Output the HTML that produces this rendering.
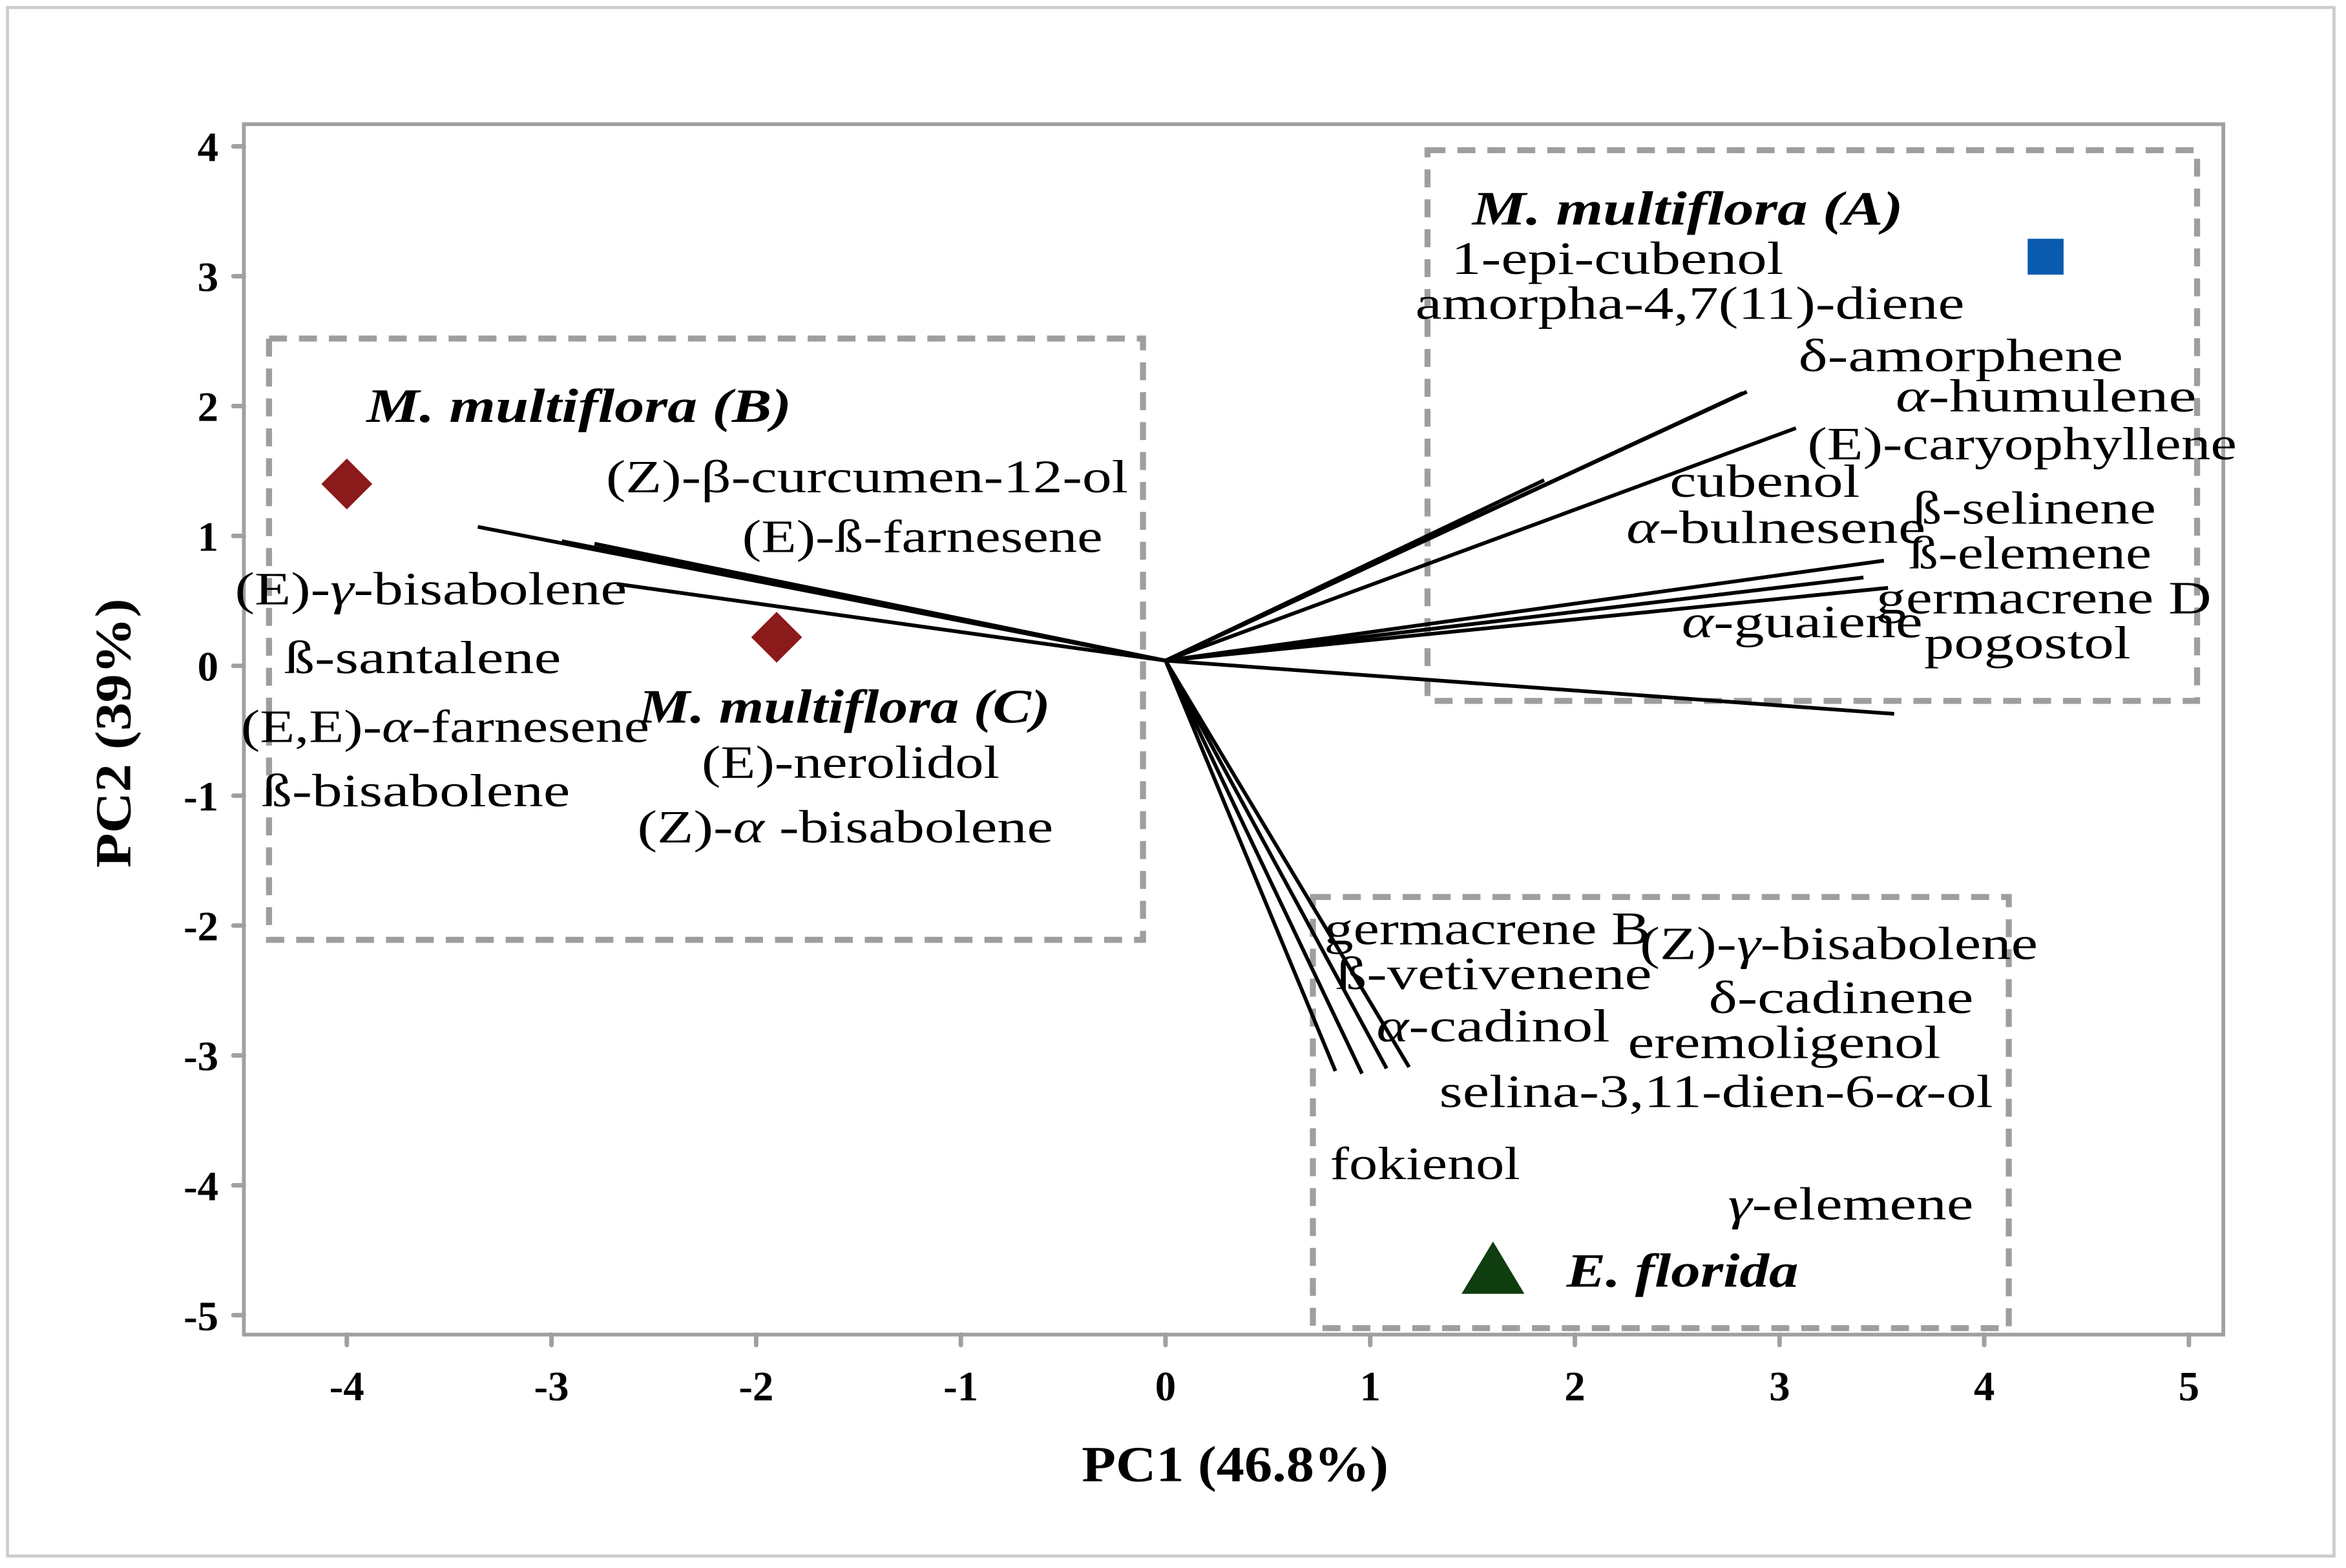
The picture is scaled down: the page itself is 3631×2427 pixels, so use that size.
<!DOCTYPE html>
<html><head><meta charset="utf-8"><style>
html,body{margin:0;padding:0;background:#fff}
svg{display:block}
text{font-family:"Liberation Serif",serif;fill:#000}
.lab{font-size:31px}
.grp{font-size:32px;font-weight:bold;font-style:italic}
.tick{font-size:28px;font-weight:bold}
.ttl{font-size:34px;font-weight:bold}
</style></head><body>
<svg id="chart" width="3631" height="2427" viewBox="0 0 1568 1048" preserveAspectRatio="none" xmlns="http://www.w3.org/2000/svg">
<rect x="5" y="5" width="1555" height="1035" fill="#fff" stroke="#ccc" stroke-width="2"/>
<g id="boxes"></g>
<g id="vecs"></g>
<g id="pts"></g>
<rect x="163" y="83" width="1323" height="809" fill="none" stroke="#a0a0a0" stroke-width="2.5"/>
<g id="ticks"></g>
<g id="labels" class="lab" lengthAdjust="spacingAndGlyphs">
<text x="970" y="183" textLength="222" lengthAdjust="spacingAndGlyphs">1-epi-cubenol</text>
<text x="946" y="213" textLength="367" lengthAdjust="spacingAndGlyphs">amorpha-4,7(11)-diene</text>
<text x="1202" y="248" textLength="217" lengthAdjust="spacingAndGlyphs">δ-amorphene</text>
<text x="1267" y="275" textLength="201" lengthAdjust="spacingAndGlyphs"><tspan font-style="italic">α</tspan>-humulene</text>
<text x="1208" y="307" textLength="287" lengthAdjust="spacingAndGlyphs">(E)-caryophyllene</text>
<text x="1116" y="332" textLength="127" lengthAdjust="spacingAndGlyphs">cubenol</text>
<text x="1087" y="363" textLength="200" lengthAdjust="spacingAndGlyphs"><tspan font-style="italic">α</tspan>-bulnesene</text>
<text x="1278" y="350" textLength="163" lengthAdjust="spacingAndGlyphs">ß-selinene</text>
<text x="1276" y="380" textLength="162" lengthAdjust="spacingAndGlyphs">ß-elemene</text>
<text x="1254" y="410" textLength="224" lengthAdjust="spacingAndGlyphs">germacrene D</text>
<text x="1124" y="426" textLength="161" lengthAdjust="spacingAndGlyphs"><tspan font-style="italic">α</tspan>-guaiene</text>
<text x="1286" y="440" textLength="138" lengthAdjust="spacingAndGlyphs">pogostol</text>
<text x="405" y="329" textLength="349" lengthAdjust="spacingAndGlyphs">(Z)-β-curcumen-12-ol</text>
<text x="496" y="369" textLength="241" lengthAdjust="spacingAndGlyphs">(E)-ß-farnesene</text>
<text x="157" y="404" textLength="262" lengthAdjust="spacingAndGlyphs">(E)-<tspan font-style="italic">γ</tspan>-bisabolene</text>
<text x="190" y="450" textLength="185" lengthAdjust="spacingAndGlyphs">ß-santalene</text>
<text x="161" y="496" textLength="273" lengthAdjust="spacingAndGlyphs">(E,E)-<tspan font-style="italic">α</tspan>-farnesene</text>
<text x="175" y="539" textLength="206" lengthAdjust="spacingAndGlyphs">ß-bisabolene</text>
<text x="469" y="520" textLength="199" lengthAdjust="spacingAndGlyphs">(E)-nerolidol</text>
<text x="426" y="563" textLength="278" lengthAdjust="spacingAndGlyphs">(Z)-<tspan font-style="italic">α</tspan> -bisabolene</text>
<text x="885" y="631" textLength="218" lengthAdjust="spacingAndGlyphs">germacrene B</text>
<text x="1096" y="641" textLength="266" lengthAdjust="spacingAndGlyphs">(Z)-<tspan font-style="italic">γ</tspan>-bisabolene</text>
<text x="893" y="661" textLength="211" lengthAdjust="spacingAndGlyphs">ß-vetivenene</text>
<text x="1142" y="677" textLength="177" lengthAdjust="spacingAndGlyphs">δ-cadinene</text>
<text x="920" y="696" textLength="156" lengthAdjust="spacingAndGlyphs"><tspan font-style="italic">α</tspan>-cadinol</text>
<text x="1088" y="707" textLength="209" lengthAdjust="spacingAndGlyphs">eremoligenol</text>
<text x="962" y="740" textLength="370" lengthAdjust="spacingAndGlyphs">selina-3,11-dien-6-<tspan font-style="italic">α</tspan>-ol</text>
<text x="889" y="788" textLength="127" lengthAdjust="spacingAndGlyphs">fokienol</text>
<text x="1155" y="815" textLength="164" lengthAdjust="spacingAndGlyphs"><tspan font-style="italic">γ</tspan>-elemene</text>
</g>
<text class="grp" x="984" y="150" textLength="288" lengthAdjust="spacingAndGlyphs">M. multiflora (A)</text>
<text class="grp" x="245" y="282" textLength="284" lengthAdjust="spacingAndGlyphs">M. multiflora (B)</text>
<text class="grp" x="427" y="483" textLength="275" lengthAdjust="spacingAndGlyphs">M. multiflora (C)</text>
<text class="grp" x="1047" y="860" textLength="155" lengthAdjust="spacingAndGlyphs">E. florida</text>
<text class="ttl" x="723" y="990" textLength="205" lengthAdjust="spacingAndGlyphs">PC1 (46.8%)</text>
<text class="ttl" transform="translate(87,580) rotate(-90)" textLength="180" lengthAdjust="spacingAndGlyphs">PC2 (39%)</text>
</svg>
<script>
const xTicks=[-4,-3,-2,-1,0,1,2,3,4,5];
const yTicks=[4,3,2,1,0,-1,-2,-3,-4,-5];
const vecX=[-3.36,-2.95,-2.79,-2.68,2.84,2.82,1.85,3.08,3.51,3.41,3.53,3.56,0.83,0.96,1.08,1.19];
const vecY=[1.07,0.96,0.94,0.63,2.11,2.10,1.43,1.83,0.81,0.68,0.60,-0.37,-3.12,-3.14,-3.10,-3.09];
const ptX=[4.30,-4.00,-1.90,1.60];
const ptY=[3.15,1.40,0.22,-4.64];
const ptNames=['point-m-multiflora-a','point-m-multiflora-b','point-m-multiflora-c','point-e-florida'];
const ptShapes=['square','diamond','diamond','triangle'];
const boxX0=[1.28,-4.38,0.72],boxX1=[5.04,-0.11,4.12],boxY0=[3.97,2.52,-1.78],boxY1=[-0.27,-2.11,-5.1];
const boxNames=['group-box-a','group-box-b','group-box-e-florida'];
const sx=v=>779+v*136.8, sy=v=>445-v*86.8;
const NS='http://www.w3.org/2000/svg';
function mk(t,a,p){const e=document.createElementNS(NS,t);for(const k in a)e.setAttribute(k,a[k]);p.appendChild(e);return e;}
const T=document.getElementById('ticks');
xTicks.forEach(v=>{
 const l=mk('line',{x1:sx(v),x2:sx(v),y1:892,y2:899,stroke:'#a0a0a0','stroke-width':3,'stroke-linecap':'round'},T);
 
 
 const t=mk('text',{x:sx(v),y:936,'text-anchor':'middle',class:'tick'},T);t.textContent=v;
 
 
});
yTicks.forEach(v=>{
 const l=mk('line',{x1:156,x2:163,y1:sy(v),y2:sy(v),stroke:'#a0a0a0','stroke-width':3,'stroke-linecap':'round'},T);
 
 
 const t=mk('text',{x:146,y:sy(v)+10,'text-anchor':'end',class:'tick'},T);t.textContent=v;
 
 
});
const B=document.getElementById('boxes');
boxX0.forEach((v,i)=>{
 const r=mk('rect',{x:sx(v),y:sy(boxY0[i]),width:sx(boxX1[i])-sx(v),height:sy(boxY1[i])-sy(boxY0[i]),fill:'none',stroke:'#9e9e9e','stroke-width':4,'stroke-dasharray':'12 8'},B);
 
 
});
const V=document.getElementById('vecs');
vecX.forEach((v,i)=>{
 const l=mk('line',{x1:sx(0),y1:sy(0.04),x2:sx(v),y2:sy(vecY[i]),stroke:'#000','stroke-width':2.5},V);
 
 
});
const P=document.getElementById('pts');
ptX.forEach((v,i)=>{
 const x=sx(v),y=sy(ptY[i]);let e;
 if(ptShapes[i]==='square')e=mk('rect',{x:x-12,y:y-12,width:24,height:24,fill:'#0a5aaf'},P);
 else if(ptShapes[i]==='diamond')e=mk('polygon',{points:`${x},${y-17} ${x+17},${y} ${x},${y+17} ${x-17},${y}`,fill:'#8b1a1a'},P);
 else e=mk('polygon',{points:`${x},${y-18} ${x+21},${y+17} ${x-21},${y+17}`,fill:'#0f3d0f'},P);
 
 
});
</script>
</body></html>
